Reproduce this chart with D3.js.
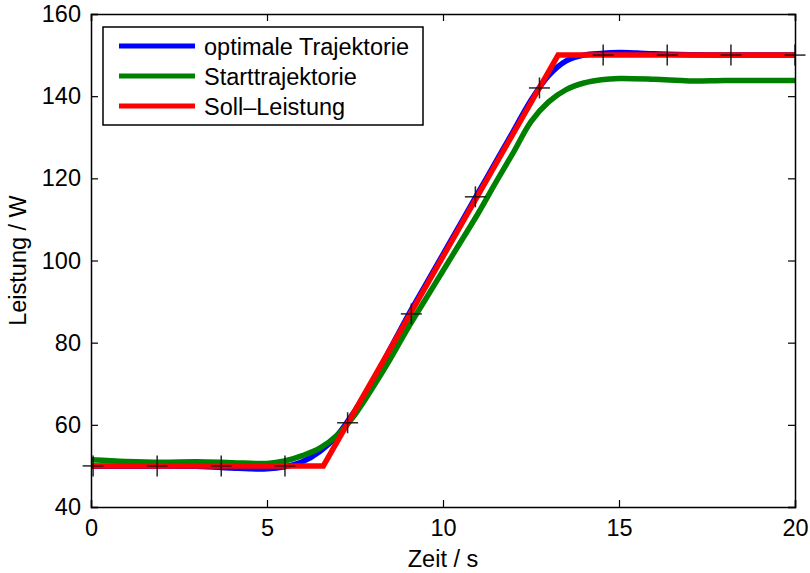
<!DOCTYPE html>
<html><head><meta charset="utf-8">
<script src="https://cdn.jsdelivr.net/npm/d3@7"></script>
<style>body{margin:0;background:#fff}svg{display:block}text{font-family:"Liberation Sans",Arial,sans-serif}</style>
</head><body><svg id="c" width="810" height="573"></svg>
<script>
const xTicks=[0,5,10,15,20];
const yTicks=[40,60,80,100,120,140,160];
const sollT=[0,6.6,13.27,20];
const sollV=[50,50,150,150];
const optT=[0,1,2,3,4,4.5,5,5.5,6,6.5,7,7.5,8,8.5,9,9.5,10,10.5,11,11.5,12,12.5,13,13.5,14,14.5,15,15.5,16,17,18,19,20];
const optV=[49.9,49.9,50.0,49.9,49.5,49.3,49.3,49.8,51.0,53.5,57.5,63.5,70.5,78.5,86.5,94,101.5,109,116.5,124,131.5,139,145,148.6,150,150.4,150.6,150.5,150.3,150.1,150,150,150];
const startT=[0,1,2,3,4,5,5.5,6,6.5,7,7.5,8,8.5,9,9.5,10,10.5,11,11.5,12,12.5,13,13.5,14,14.5,15,16,17,18,19,20];
const startV=[51.5,51.1,50.9,51.0,50.8,50.6,51.2,52.5,54.3,57.5,62.5,69,76,83.5,90.5,97.5,104.5,111.5,119,126.3,133.8,138.6,141.6,143.2,144,144.3,144.1,143.7,143.8,143.8,143.8];
const markT=[0.06,1.88,3.7,5.51,7.29,9.1,10.92,12.74,14.55,16.37,18.18,20];
const markV=[50,50,50,50,60.5,87,115.5,142,150,150,150,150];
const seriesNames=["optimale Trajektorie","Starttrajektorie","Soll\u2013Leistung"];
const seriesColors=["#0000ff","#008000","#ff0000"];

const svg=d3.select("#c");
const L=91,R=795,T=14,B=507;
const x=d3.scaleLinear().domain([0,20]).range([L,R]);
const y=d3.scaleLinear().domain([40,160]).range([B,T]);
const fs=23.5;

const line=d3.line().x(d=>x(d[0])).y(d=>y(d[1]));
const lineS=d3.line().x(d=>x(d[0])).y(d=>y(d[1])).curve(d3.curveCatmullRom);
const g=svg.append("g");
g.append("path").datum(optT.map((t,i)=>[t,optV[i]])).attr("d",lineS).attr("fill","none").attr("stroke",seriesColors[0]).attr("stroke-width",5.5);
g.append("path").datum(startT.map((t,i)=>[t,startV[i]])).attr("d",lineS).attr("fill","none").attr("stroke",seriesColors[1]).attr("stroke-width",5.5);
g.append("path").datum(sollT.map((t,i)=>[t,sollV[i]])).attr("d",line).attr("fill","none").attr("stroke",seriesColors[2]).attr("stroke-width",5.5);
const ms=10.5;
const mk=svg.append("g").attr("stroke","#111").attr("stroke-width",1.5).attr("opacity",0.9);
markT.forEach((t,i)=>{
  const cx=x(t),cy=y(markV[i]);
  mk.append("line").attr("x1",cx-ms).attr("x2",cx+ms).attr("y1",cy).attr("y2",cy);
  mk.append("line").attr("x1",cx).attr("x2",cx).attr("y1",cy-ms).attr("y2",cy+ms);
});

const tl=7;
const ax=svg.append("g");
ax.append("g").attr("transform",`translate(0,${B})`).call(d3.axisBottom(x).tickValues(xTicks).tickSize(-tl).tickPadding(tl+5).tickFormat(d3.format("d")));
ax.append("g").attr("transform",`translate(0,${T})`).call(d3.axisTop(x).tickValues(xTicks).tickSize(-tl).tickFormat(""));
ax.append("g").attr("transform",`translate(${L},0)`).call(d3.axisLeft(y).tickValues(yTicks).tickSize(-tl).tickPadding(tl+3).tickFormat(d3.format("d")));
ax.append("g").attr("transform",`translate(${R},0)`).call(d3.axisRight(y).tickValues(yTicks).tickSize(-tl).tickFormat(""));
ax.selectAll(".domain").attr("stroke","#000").attr("stroke-width",1.5);
ax.selectAll(".tick line").attr("stroke","#000").attr("stroke-width",1.2);
ax.selectAll(".tick text").attr("font-size",fs).attr("fill","#000").attr("font-family","Liberation Sans, Arial, sans-serif");

svg.append("text").attr("x",(L+R)/2).attr("y",567).attr("text-anchor","middle").attr("font-size",fs).text("Zeit / s");
svg.append("text").attr("transform",`translate(26,${(T+B)/2}) rotate(-90)`).attr("text-anchor","middle").attr("font-size",fs).text("Leistung / W");

const lg=svg.append("g");
lg.append("rect").attr("x",103).attr("y",27).attr("width",320).attr("height",98).attr("fill","#fff").attr("stroke","#000").attr("stroke-width",1.5);
seriesNames.forEach((n,i)=>{
  const yy=46+i*30;
  lg.append("line").attr("x1",119).attr("x2",195).attr("y1",yy).attr("y2",yy).attr("stroke",seriesColors[i]).attr("stroke-width",5);
  lg.append("text").attr("x",204).attr("y",yy+8.5).attr("font-size",fs).text(n);
});
</script></body></html>
